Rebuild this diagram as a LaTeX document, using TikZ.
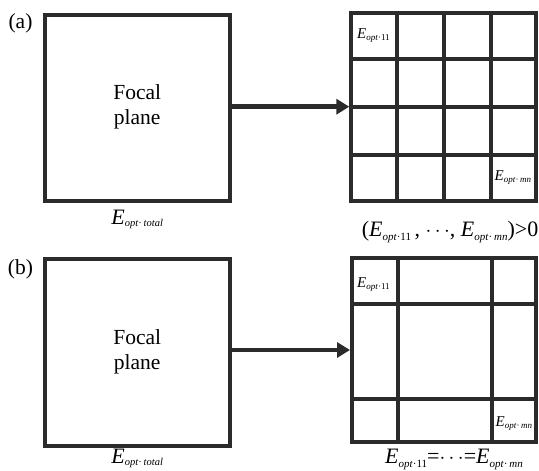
\documentclass[tikz,border=0pt]{standalone}
\usepackage{fontspec}
\setmainfont{Liberation Serif}
\usetikzlibrary{arrows.meta,calc}
\definecolor{ink}{HTML}{2B2B2B}
\newcommand{\EE}[3]{{\fontsize{#1}{#1}\selectfont\textit{E}}\raisebox{-0.45ex}{\fontsize{#2}{#2}\selectfont #3}}
\begin{document}
\begin{tikzpicture}[x=1pt,y=-1pt,
  frame/.style={draw=ink, line width=4pt, inner sep=0pt},
  gridline/.style={draw=ink, line width=4pt},
  conn/.style={draw=ink, line width=4.5pt, -{Triangle[length=13pt,width=15pt]}},
  txt/.style={font=\fontsize{21.5}{25}\selectfont, align=center, inner sep=0pt},
  lbl/.style={inner sep=0pt, anchor=base west}]
\useasboundingbox (0,0) rectangle (539,471);
% ---------- (a) ----------
\node[txt] (la) at (20.5,23) {(a)};
\node[frame, minimum width=185pt, minimum height=186.3pt] (fa) at (137.2,107.8) {};
\node[txt] (ta) at ($(fa.center)+(0,-1)$) {Focal\\plane};
\node[frame, minimum width=185pt, minimum height=188pt] (ga) at (443.8,106.7) {};
\foreach \i in {1,2,3}{
  \draw[gridline] ($(ga.north west)!\i/4!(ga.north east)$) -- ($(ga.south west)!\i/4!(ga.south east)$);
  \draw[gridline] ($(ga.north west)!\i/4!(ga.south west)$) -- ($(ga.north east)!\i/4!(ga.south east)$);
}
\draw[conn] (fa.east |- ga.west) -- (ga.west);
\node[lbl] (ca11) at (357,38) {\EE{15}{9}{\textit{opt}·11}};
\node[lbl] (camn) at (494.5,180) {\EE{15}{9}{\textit{opt}·\,\textit{mn}}};
\node[inner sep=0pt, anchor=base] (ea) at (fa.south |- 0,224) {\EE{22}{10.5}{\textit{opt}·\,\textit{total}}};
\node[inner sep=0pt, anchor=base east] (sa) at (538.5,236) {\fontsize{22}{22}\selectfont(\EE{22}{11}{\textit{opt}·11}\,, $\cdots$, \EE{22}{11}{\textit{opt}·\,\textit{mn}})>0};
% ---------- (b) ----------
\node[txt] (lb) at (20.5,269) {(b)};
\node[frame, minimum width=185pt, minimum height=187.6pt] (fb) at (137.2,352.5) {};
\node[txt] (tb) at ($(fb.center)+(0,-1)$) {Focal\\plane};
\node[frame, minimum width=184pt, minimum height=184pt] (gb) at (444,350) {};
\draw[gridline] (gb.north west -| 398.3,0) -- (gb.south west -| 398.3,0);
\draw[gridline] (gb.north west -| 491.7,0) -- (gb.south west -| 491.7,0);
\draw[gridline] (gb.north west |- 0,304.3) -- (gb.north east |- 0,304.3);
\draw[gridline] (gb.north west |- 0,399.3) -- (gb.north east |- 0,399.3);
\draw[conn] (fb.east |- gb.west) -- (gb.west);
\node[lbl] (cb11) at (357,287) {\EE{15}{9}{\textit{opt}·11}};
\node[lbl] (cbmn) at (495.5,426) {\EE{15}{9}{\textit{opt}·\,\textit{mn}}};
\node[inner sep=0pt, anchor=base] (eb) at (fb.south |- 0,463) {\EE{22}{10.5}{\textit{opt}·\,\textit{total}}};
\node[inner sep=0pt, anchor=base] (sb) at (454,463) {\fontsize{22}{22}\selectfont\EE{22}{11}{\textit{opt}·11}=$\cdots$=\EE{22}{11}{\textit{opt}·\,\textit{mn}}};
\end{tikzpicture}
\end{document}
